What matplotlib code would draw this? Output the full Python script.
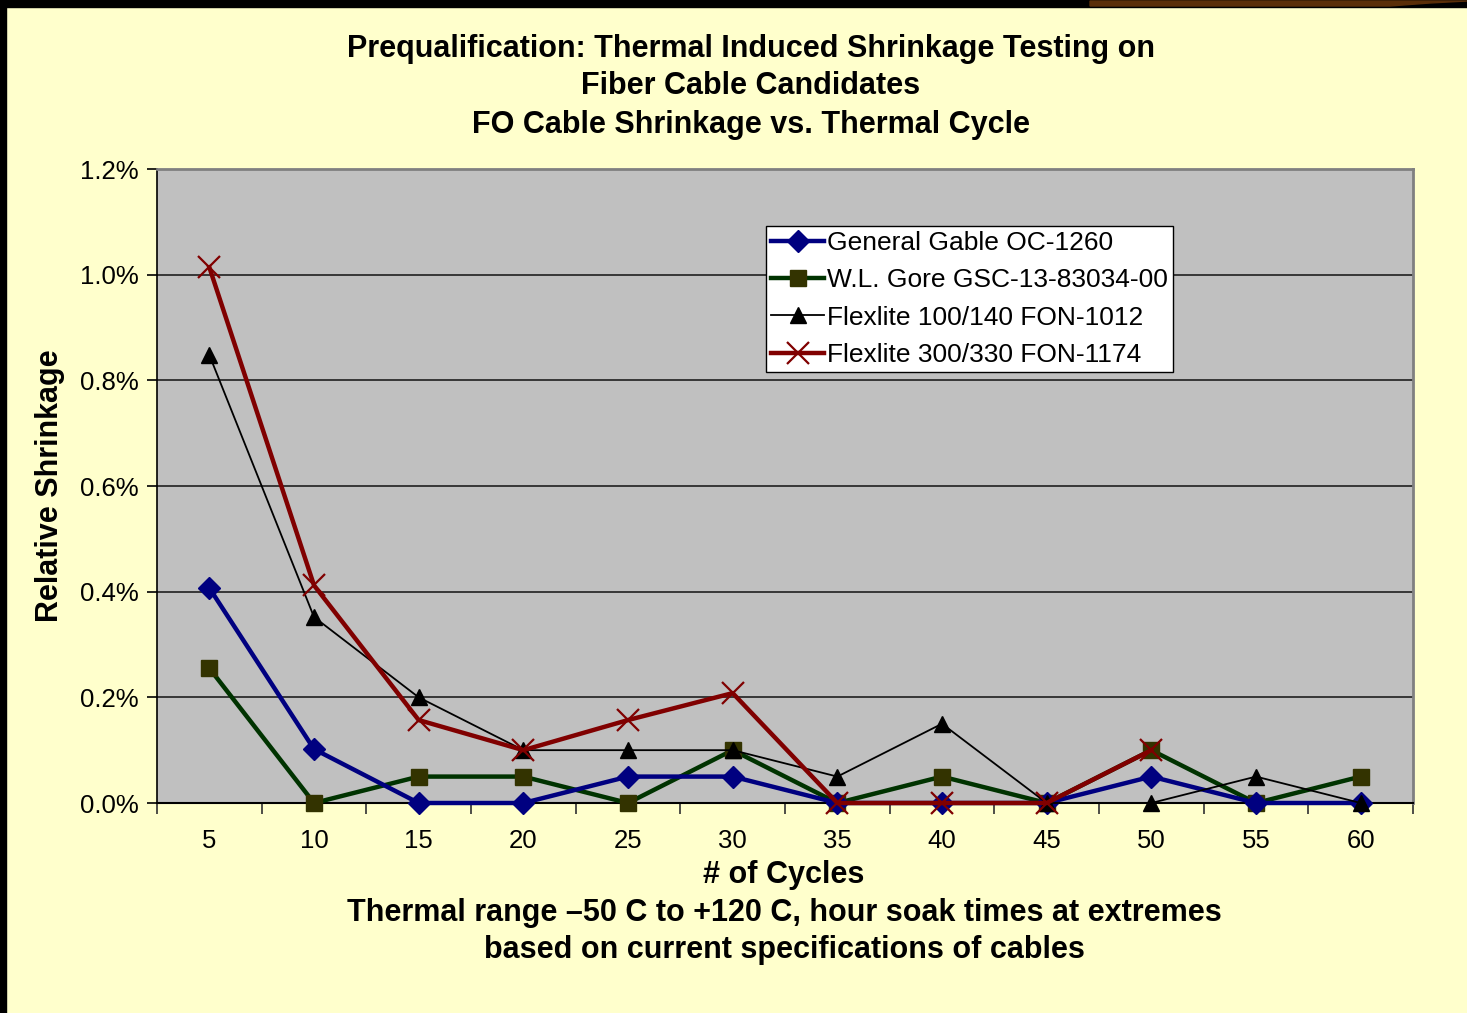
import numpy as np
import matplotlib
matplotlib.use("Agg")
import matplotlib.pyplot as plt
from matplotlib.patches import Rectangle, Polygon

plt.rcParams['font.family'] = ['Liberation Sans', 'DejaVu Sans']

cycles = ["5", "10", "15", "20", "25", "30", "35", "40", "45", "50", "55", "60"]
general_gable = [0.407, 0.102, 0.0, 0.0, 0.05, 0.05, 0.0, 0.0, 0.0, 0.05, 0.0, 0.0]
wl_gore = [0.255, 0.0, 0.05, 0.05, 0.0, 0.1, 0.0, 0.05, 0.0, 0.1, 0.0, 0.05]
flex_100 = [0.848, 0.352, 0.2, 0.1, 0.1, 0.1, 0.05, 0.15, 0.0, 0.0, 0.05, 0.0]
flex_300 = [1.014, 0.412, 0.157, 0.1, 0.157, 0.208, 0.0, 0.0, 0.0, 0.1, np.nan, np.nan]
names = ["General Gable OC-1260", "W.L. Gore GSC-13-83034-00",
         "Flexlite 100/140 FON-1012", "Flexlite 300/330 FON-1174"]
yticks = [0.0, 0.2, 0.4, 0.6, 0.8, 1.0, 1.2]

W, H = 1467, 1013
fig = plt.figure(figsize=(W / 100, H / 100), dpi=100)
fig.patch.set_facecolor('#FFFFCC')

# decorative frame
fig.patches.append(Rectangle((0, 0), 6 / W, 1, transform=fig.transFigure, color='black', zorder=5))
fig.patches.append(Rectangle((0, 1 - 7 / H), 1, 7 / H, transform=fig.transFigure, color='black', zorder=5))
fig.patches.append(Polygon([(1090 / W, 1 - 1 / H), (1467 / W, 1 - 1 / H), (1430 / W, 1 - 3 / H),
                            (1390 / W, 1 - 6 / H), (1090 / W, 1 - 6 / H)],
                           closed=True, transform=fig.transFigure, color='#5A2E08', zorder=6))

ax = fig.add_axes([157 / W, 1 - 803 / H, (1413 - 157) / W, (803 - 169) / H])
ax.set_facecolor('#C0C0C0')
x = np.arange(len(cycles))

ax.plot(x, general_gable, color='#000080', lw=3.2, marker='D', ms=11,
        mfc='#000080', mec='#000080', zorder=4, clip_on=False, label=names[0])
ax.plot(x, wl_gore, color='#003300', lw=3.2, marker='s', ms=11,
        mfc='#333300', mec='#333300', zorder=3, clip_on=False, label=names[1])
ax.plot(x, flex_100, color='black', lw=1.3, marker='^', ms=12,
        mfc='black', mec='black', zorder=5, clip_on=False, label=names[2])
ax.plot(x, flex_300, color='#800000', lw=3.2, marker='x', ms=16, mew=1.6,
        mec='#800000', zorder=6, clip_on=False, label=names[3])

ax.set_xlim(-0.5, len(cycles) - 0.5)
ax.set_ylim(0, 1.2)
ax.set_yticks(yticks)
ax.set_yticklabels([f"{v:.1f}%" for v in yticks], fontsize=18.5)
ax.yaxis.grid(True, color='#202020', lw=1.2)
ax.set_axisbelow(True)

ax.set_xticks(x)
ax.set_xticklabels(cycles, fontsize=18.5)
ax.set_xticks(np.arange(-0.5, len(cycles), 1.0), minor=True)
ax.tick_params(axis='x', which='major', length=0, pad=19)
ax.tick_params(axis='x', which='minor', length=8, width=1.2, color='#303030', direction='out')
ax.tick_params(axis='y', length=7, width=1.2, direction='out', pad=6)

ax.spines['left'].set_color('black')
ax.spines['bottom'].set_color('black')
ax.spines['left'].set_linewidth(1.2)
ax.spines['bottom'].set_linewidth(1.5)
ax.spines['top'].set_color('#808080')
ax.spines['right'].set_color('#808080')
ax.spines['top'].set_linewidth(2)
ax.spines['right'].set_linewidth(2)

ax.set_ylabel("Relative Shrinkage", fontsize=22, fontweight='bold', labelpad=11)

leg = ax.legend(loc='upper left', bbox_to_anchor=((766 - 157) / (1413 - 157), (803 - 226) / (803 - 169)),
                fontsize=19, frameon=True, fancybox=False, edgecolor='black',
                facecolor='white', framealpha=1, borderpad=0.2, handlelength=2.0,
                handletextpad=0.1, labelspacing=0.5, borderaxespad=0)
leg.get_frame().set_linewidth(1)

fig.text(751 / W, 1 - 49.5 / H, "Prequalification: Thermal Induced Shrinkage Testing on",
         ha='center', va='center', fontsize=22, fontweight='bold')
fig.text(751 / W, 1 - 86.5 / H, "Fiber Cable Candidates",
         ha='center', va='center', fontsize=22, fontweight='bold')
fig.text(751 / W, 1 - 124.5 / H, "FO Cable Shrinkage vs. Thermal Cycle",
         ha='center', va='center', fontsize=22, fontweight='bold')

fig.text(784 / W, 1 - 875 / H, "# of Cycles", ha='center', va='center', fontsize=22, fontweight='bold')
fig.text(784 / W, 1 - 913 / H, "Thermal range \u201350 C to +120 C, hour soak times at extremes",
         ha='center', va='center', fontsize=22, fontweight='bold')
fig.text(784 / W, 1 - 950 / H, "based on current specifications of cables",
         ha='center', va='center', fontsize=22, fontweight='bold')

fig.savefig("out.png", dpi=100, facecolor=fig.get_facecolor())
